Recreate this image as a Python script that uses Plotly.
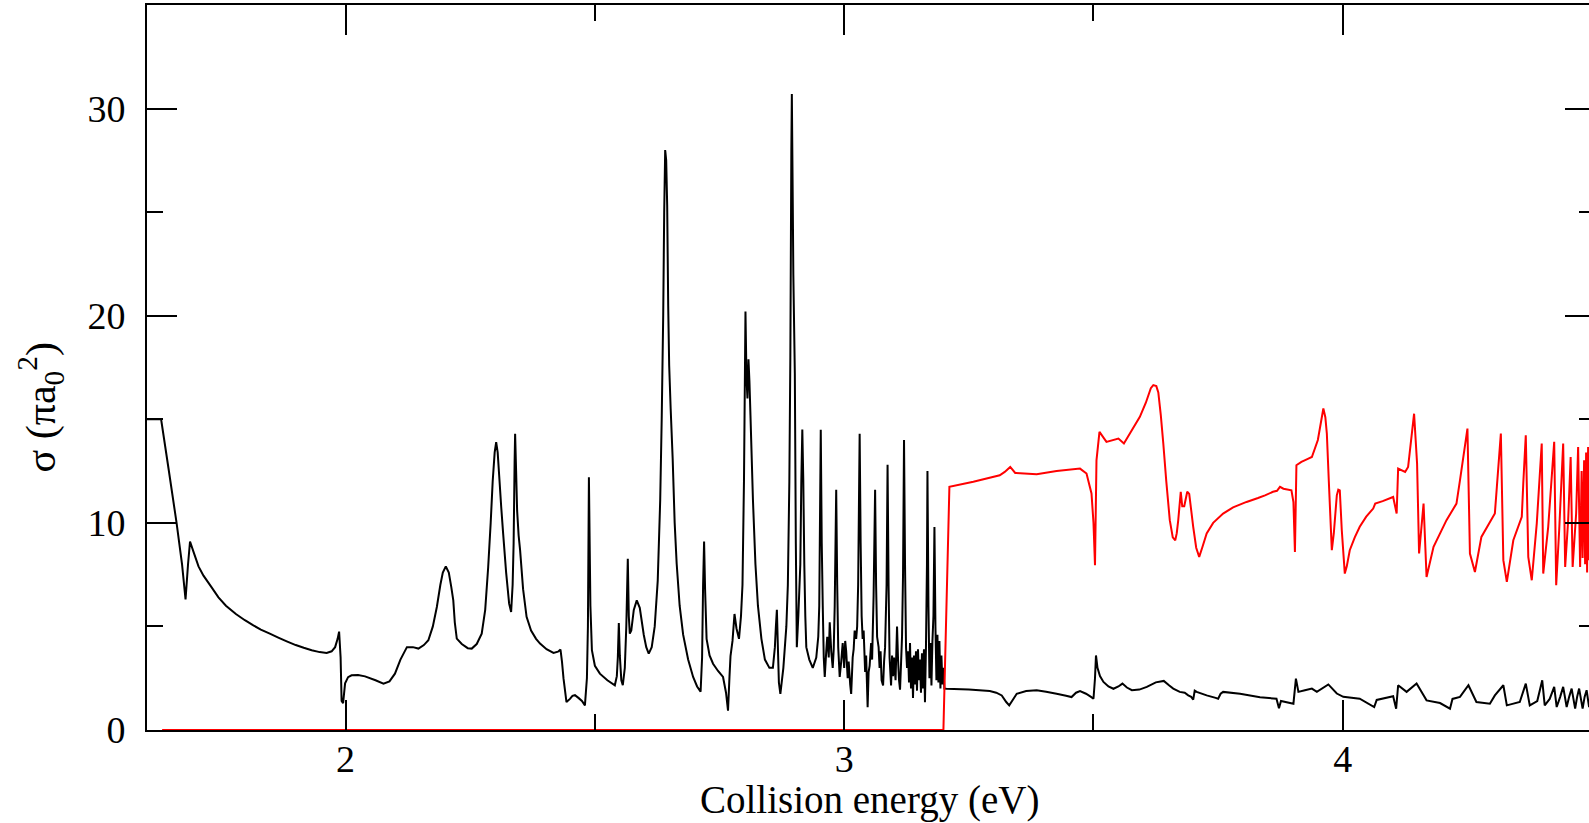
import plotly.graph_objects as go

# ---- data ----
energy_black = [
    1.600, 1.630, 1.645, 1.661, 1.672, 1.679, 1.684, 1.688, 1.695, 1.705, 1.715, 1.731, 1.745, 1.760,
    1.780, 1.798, 1.815, 1.830, 1.848, 1.865, 1.882, 1.900, 1.916, 1.932, 1.948, 1.962, 1.972, 1.979,
    1.984, 1.987, 1.990, 1.992, 1.995, 1.999, 2.005, 2.012, 2.025, 2.039, 2.060, 2.076, 2.088, 2.099,
    2.110, 2.123, 2.135, 2.146, 2.157, 2.166, 2.175, 2.183, 2.190, 2.195, 2.201, 2.207, 2.212, 2.216,
    2.219, 2.223, 2.233, 2.245, 2.253, 2.263, 2.273, 2.280, 2.286, 2.291, 2.295, 2.299, 2.302, 2.305,
    2.308, 2.312, 2.316, 2.322, 2.328, 2.332, 2.335, 2.337, 2.339, 2.340, 2.342, 2.344, 2.347, 2.350,
    2.356, 2.363, 2.372, 2.382, 2.390, 2.403, 2.417, 2.426, 2.431, 2.434, 2.437, 2.443, 2.450, 2.455,
    2.460, 2.467, 2.474, 2.480, 2.484, 2.486, 2.488, 2.490, 2.491, 2.494, 2.500, 2.510, 2.525, 2.540,
    2.544, 2.546, 2.548, 2.550, 2.553, 2.556, 2.560, 2.563, 2.566, 2.568, 2.570, 2.573, 2.578, 2.584,
    2.590, 2.598, 2.603, 2.608, 2.614, 2.620, 2.626, 2.631, 2.634, 2.637, 2.639, 2.641, 2.643, 2.645,
    2.647, 2.649, 2.652, 2.656, 2.660, 2.664, 2.670, 2.677, 2.687, 2.697, 2.705, 2.712, 2.715, 2.717,
    2.719, 2.721, 2.724, 2.730, 2.737, 2.747, 2.757, 2.763, 2.767, 2.770, 2.772, 2.776, 2.780, 2.784,
    2.789, 2.793, 2.796, 2.799, 2.802, 2.804, 2.806, 2.808, 2.810, 2.812, 2.817, 2.822, 2.827, 2.834,
    2.841, 2.850, 2.857, 2.861, 2.863, 2.865, 2.867, 2.869, 2.872, 2.878, 2.884, 2.887, 2.890, 2.892,
    2.894, 2.895, 2.897, 2.898, 2.901, 2.903, 2.905, 2.908, 2.912, 2.914, 2.916, 2.918, 2.920, 2.922,
    2.924, 2.930, 2.937, 2.944, 2.948, 2.950, 2.953, 2.955, 2.957, 2.959, 2.961, 2.964, 2.966, 2.969,
    2.971, 2.974, 2.977, 2.979, 2.981, 2.984, 2.986, 2.988, 2.991, 2.994, 2.997, 3.000, 3.002, 3.004,
    3.007, 3.009, 3.012, 3.014, 3.017, 3.019, 3.021, 3.024, 3.026, 3.028, 3.031, 3.033, 3.035, 3.037,
    3.039, 3.042, 3.044, 3.047, 3.049, 3.051, 3.054, 3.056, 3.059, 3.062, 3.064, 3.066, 3.069, 3.071,
    3.073, 3.075, 3.078, 3.080, 3.082, 3.085, 3.087, 3.089, 3.091, 3.094, 3.096, 3.098, 3.100, 3.103,
    3.106, 3.108, 3.110, 3.112, 3.114, 3.116, 3.118, 3.120, 3.122, 3.124, 3.126, 3.128, 3.130, 3.132,
    3.134, 3.136, 3.138, 3.140, 3.142, 3.144, 3.146, 3.148, 3.150, 3.152, 3.154, 3.156, 3.158, 3.160,
    3.162, 3.164, 3.166, 3.167, 3.169, 3.171, 3.173, 3.175, 3.177, 3.179, 3.181, 3.183, 3.185, 3.187,
    3.189, 3.191, 3.193, 3.195, 3.197, 3.199, 3.201, 3.205, 3.250, 3.292, 3.305, 3.316, 3.325, 3.331,
    3.338, 3.346, 3.365, 3.386, 3.405, 3.426, 3.445, 3.456, 3.465, 3.473, 3.485, 3.495, 3.500, 3.503,
    3.505, 3.508, 3.513, 3.520, 3.530, 3.540, 3.550, 3.558, 3.567, 3.577, 3.592, 3.607, 3.625, 3.641,
    3.652, 3.660, 3.673, 3.683, 3.690, 3.696, 3.700, 3.703, 3.707, 3.727, 3.745, 3.750, 3.755, 3.760,
    3.794, 3.834, 3.867, 3.872, 3.876, 3.901, 3.906, 3.911, 3.924, 3.938, 3.948, 3.971, 3.988, 4.001,
    4.034, 4.063, 4.068, 4.101, 4.107, 4.111, 4.128, 4.148, 4.168, 4.195, 4.215, 4.220, 4.235, 4.252,
    4.268, 4.295, 4.305, 4.322, 4.329, 4.355, 4.367, 4.375, 4.390, 4.400, 4.405, 4.415, 4.424, 4.429,
    4.436, 4.442, 4.449, 4.454, 4.459, 4.466, 4.470, 4.474, 4.481, 4.485, 4.489, 4.494, 4.500,
]
sigma_black = [
    15.0, 15.0, 12.6, 10.0, 8.0, 6.3, 8.0, 9.1, 8.6, 7.9, 7.45, 6.9, 6.4, 6.0,
    5.6, 5.3, 5.05, 4.85, 4.65, 4.46, 4.28, 4.1, 3.97, 3.85, 3.76, 3.72, 3.8, 4.0,
    4.4, 4.75, 3.5, 1.4, 1.3, 2.25, 2.55, 2.64, 2.66, 2.59, 2.4, 2.24, 2.35, 2.72,
    3.4, 4.0, 4.0, 3.93, 4.1, 4.33, 5.0, 5.94, 7.0, 7.6, 7.9, 7.6, 6.9, 6.26,
    5.2, 4.41, 4.15, 3.95, 3.93, 4.15, 4.65, 5.8, 7.87, 10.0, 12.0, 13.4, 13.9, 13.4,
    12.3, 10.8, 9.48, 7.6, 6.1, 5.7, 7.0, 9.0, 13.0, 14.3, 12.5, 10.6, 9.4, 8.68,
    6.8, 5.46, 4.8, 4.4, 4.17, 3.9, 3.72, 3.78, 3.88, 3.3, 2.5, 1.35, 1.5, 1.65,
    1.68, 1.55, 1.4, 1.19, 2.5, 5.0, 12.2, 8.0, 6.0, 3.85, 3.1, 2.72, 2.4, 2.16,
    2.6, 3.5, 5.17, 3.6, 2.4, 2.16, 3.0, 5.0, 8.27, 5.5, 4.65, 4.8, 5.8, 6.26,
    5.9, 4.6, 4.0, 3.69, 4.0, 5.0, 7.2, 11.1, 15.0, 20.0, 25.0, 28.0, 27.5, 25.3,
    20.5, 17.6, 15.5, 13.1, 10.0, 8.04, 6.0, 4.6, 3.4, 2.56, 2.1, 1.85, 3.5, 7.0,
    9.1, 6.8, 4.4, 3.6, 3.2, 2.85, 2.56, 1.8, 0.93, 2.6, 3.57, 4.3, 5.6, 4.9,
    4.4, 5.5, 7.0, 12.0, 20.2, 17.0, 16.0, 17.9, 16.8, 15.2, 11.1, 8.0, 6.0, 4.4,
    3.4, 3.0, 3.0, 4.0, 5.0, 5.8, 4.0, 2.3, 1.74, 3.0, 5.0, 7.0, 12.0, 18.0,
    28.0, 30.7, 25.0, 22.0, 17.2, 9.0, 4.0, 5.5, 8.0, 12.0, 14.5, 12.0, 8.0, 5.5,
    4.0, 3.4, 3.0, 3.5, 4.5, 6.0, 14.5, 9.0, 6.0, 3.5, 2.56, 3.8, 4.5, 3.5,
    5.2, 3.8, 3.0, 3.9, 6.0, 11.6, 7.0, 4.0, 2.56, 3.3, 4.2, 3.0, 4.3, 3.8,
    2.5, 3.3, 2.2, 1.74, 3.5, 3.9, 4.8, 4.4, 5.0, 7.0, 14.3, 9.0, 5.5, 4.4,
    4.8, 2.8, 3.6, 1.1, 2.8, 3.1, 4.2, 3.4, 6.5, 11.6, 7.0, 4.5, 4.0, 3.0,
    3.8, 2.4, 2.15, 3.3, 4.0, 7.0, 12.8, 7.0, 3.5, 2.15, 3.6, 2.6, 3.5, 2.4,
    5.0, 3.4, 2.4, 1.95, 3.2, 4.5, 7.5, 14.0, 8.0, 4.0, 3.0, 3.8, 2.3, 4.2,
    2.0, 3.5, 1.54, 3.6, 2.2, 3.8, 1.9, 3.9, 2.4, 3.4, 1.8, 3.7, 2.0, 3.9,
    1.34, 4.0, 8.0, 12.5, 6.0, 2.5, 4.2, 2.15, 4.3, 5.5, 9.8, 5.0, 2.4, 4.6,
    2.3, 4.3, 2.0, 3.6, 2.2, 3.0, 2.0, 1.99, 1.95, 1.88, 1.8, 1.67, 1.35, 1.19,
    1.45, 1.75, 1.88, 1.92, 1.85, 1.75, 1.65, 1.59, 1.8, 1.88, 1.75, 1.6, 1.51, 2.5,
    3.6, 3.0, 2.6, 2.32, 2.1, 1.99, 2.1, 2.24, 2.05, 1.92, 1.95, 2.08, 2.3, 2.37,
    2.15, 2.0, 1.84, 1.8, 1.67, 1.6, 1.47, 1.9, 1.84, 1.67, 1.55, 1.51, 1.75, 1.84,
    1.75, 1.58, 1.51, 1.05, 1.4, 1.27, 2.48, 1.84, 1.92, 2.0, 1.84, 2.2, 1.76, 1.6,
    1.51, 1.11, 1.45, 1.63, 1.03, 2.16, 1.84, 2.24, 1.43, 1.3, 1.03, 1.5, 1.6, 2.16,
    1.35, 1.27, 1.67, 2.16, 1.19, 1.35, 2.24, 1.19, 1.4, 2.4, 1.19, 1.5, 2.08, 1.11,
    1.6, 2.08, 1.11, 1.6, 2.0, 1.03, 1.6, 2.0, 1.03, 1.6, 1.92, 1.11, 1.7,
]

energy_red = [
    1.632, 3.199, 3.211, 3.259, 3.312, 3.322, 3.333, 3.343, 3.386, 3.426, 3.473, 3.486, 3.496, 3.500,
    3.503, 3.506, 3.512, 3.526, 3.550, 3.561, 3.593, 3.605, 3.615, 3.620, 3.626, 3.630, 3.635, 3.640,
    3.646, 3.653, 3.659, 3.664, 3.667, 3.670, 3.675, 3.678, 3.682, 3.688, 3.692, 3.696, 3.700, 3.706,
    3.712, 3.718, 3.727, 3.740, 3.760, 3.780, 3.807, 3.830, 3.844, 3.860, 3.868, 3.874, 3.881, 3.897,
    3.901, 3.904, 3.907, 3.917, 3.931, 3.938, 3.950, 3.961, 3.965, 3.968, 3.972, 3.978, 3.982, 3.988,
    3.991, 3.994, 3.998, 4.004, 4.008, 4.014, 4.024, 4.034, 4.047, 4.061, 4.065, 4.080, 4.101, 4.108,
    4.111, 4.125, 4.131, 4.143, 4.149, 4.153, 4.162, 4.168, 4.182, 4.208, 4.228, 4.235, 4.250, 4.255,
    4.265, 4.278, 4.305, 4.309, 4.317, 4.322, 4.329, 4.342, 4.359, 4.362, 4.367, 4.372, 4.379, 4.389,
    4.399, 4.402, 4.412, 4.424, 4.428, 4.434, 4.442, 4.446, 4.452, 4.457, 4.461, 4.468, 4.472, 4.476,
    4.479, 4.481, 4.484, 4.486, 4.488, 4.490, 4.492, 4.4935, 4.495, 4.4965, 4.498, 4.500,
]
sigma_red = [
    0.0, 0.0, 11.74, 11.98, 12.3, 12.46, 12.7, 12.41, 12.35, 12.5, 12.62, 12.38, 11.42, 10.0,
    7.95, 13.02, 14.39, 13.91, 14.07, 13.83, 15.12, 15.8, 16.5, 16.65, 16.6, 16.3, 15.2, 13.83,
    12.0, 10.13, 9.3, 9.16, 9.5, 10.13, 11.5, 10.8, 10.8, 11.5, 11.4, 10.6, 9.81, 8.8,
    8.36, 8.8, 9.49, 10.0, 10.45, 10.75, 11.01, 11.2, 11.33, 11.5, 11.55, 11.74, 11.65, 11.57,
    11.0, 8.6, 12.78, 12.94, 13.1, 13.18, 14.0, 15.52, 15.1, 14.31, 12.0, 8.68, 9.5, 11.33,
    11.6, 11.57, 9.64, 7.55, 7.9, 8.68, 9.3, 9.81, 10.3, 10.69, 10.93, 11.05, 11.25, 10.45,
    12.62, 12.46, 12.7, 15.27, 12.86, 8.52, 10.93, 7.39, 8.84, 10.13, 10.93, 12.05, 14.55, 8.52,
    7.63, 9.32, 10.45, 11.74, 14.31, 8.2, 7.15, 9.16, 10.29, 11.9, 14.23, 8.36, 7.23, 9.96,
    13.83, 7.55, 9.81, 13.91, 6.99, 9.64, 13.83, 7.87, 10.13, 13.18, 7.87, 10.45, 13.66, 7.87,
    12.5, 8.3, 13.02, 8.0, 13.4, 7.6, 13.66, 8.2, 13.2, 7.9, 12.8, 9.0,
]

x_tick_vals = [2, 3, 4]
x_minor_vals = [2.5, 3.5, 4.5]
y_tick_vals = [0, 10, 20, 30]
y_minor_vals = [5, 15, 25]
x_title = "Collision energy (eV)"
y_title = "σ (πa<sub>0</sub><sup>2</sup>)"

FONT = "Liberation Serif, Times New Roman, serif"

fig = go.Figure()
fig.add_trace(go.Scatter(x=energy_black, y=sigma_black, mode="lines",
                         line=dict(color="black", width=2, simplify=False),
                         showlegend=False, hoverinfo="skip"))
fig.add_trace(go.Scatter(x=energy_red, y=sigma_red, mode="lines",
                         line=dict(color="#ff0000", width=2, simplify=False),
                         showlegend=False, hoverinfo="skip"))
# invisible trace to anchor the right-side tick axis
fig.add_trace(go.Scatter(x=[energy_black[0]], y=[sigma_black[0]], yaxis="y2", mode="lines",
                         line=dict(width=0), showlegend=False, hoverinfo="skip", opacity=0))

fig.update_layout(
    width=1589, height=823, autosize=False,
    margin=dict(l=147, r=0, t=5, b=93),
    paper_bgcolor="white", plot_bgcolor="white",
    font=dict(family=FONT, size=38, color="black"),
    xaxis=dict(
        range=[1.6017, 4.4938], tickmode="array", tickvals=x_tick_vals,
        ticks="inside", ticklen=30, tickwidth=2, tickcolor="black",
        showline=True, linewidth=2, linecolor="black", mirror="ticks",
        showgrid=False, zeroline=False, ticklabelstandoff=-6,
        tickfont=dict(family=FONT, size=38, color="black"),
        minor=dict(tickmode="array", tickvals=x_minor_vals, ticks="inside",
                   ticklen=16, tickwidth=2, tickcolor="black", showgrid=False),
    ),
    yaxis=dict(
        range=[0, 35], tickmode="array", tickvals=y_tick_vals,
        ticks="inside", ticklen=30, tickwidth=2, tickcolor="black",
        showline=True, linewidth=2, linecolor="black", mirror=False,
        showgrid=False, zeroline=False, ticklabelstandoff=12,
        tickfont=dict(family=FONT, size=38, color="black"),
        minor=dict(tickmode="array", tickvals=y_minor_vals, ticks="inside",
                   ticklen=16, tickwidth=2, tickcolor="black", showgrid=False),
    ),
    yaxis2=dict(
        overlaying="y", side="right", range=[0, 35],
        tickmode="array", tickvals=y_tick_vals, showticklabels=False,
        ticks="inside", ticklen=24, tickwidth=2, tickcolor="black",
        showline=False, showgrid=False, zeroline=False,
        minor=dict(tickmode="array", tickvals=y_minor_vals, ticks="inside",
                   ticklen=10, tickwidth=2, tickcolor="black", showgrid=False),
    ),
    annotations=[
        dict(text=x_title, xref="paper", yref="paper", x=0.5007, y=-0.0966,
             xanchor="center", yanchor="middle", showarrow=False,
             font=dict(family=FONT, size=39, color="black")),
        dict(text=y_title, xref="paper", yref="paper", x=-0.0739, y=0.4455,
             xanchor="center", yanchor="middle", textangle=-90, showarrow=False,
             font=dict(family=FONT, size=42, color="black")),
    ],
)

fig.write_html("out.html")
